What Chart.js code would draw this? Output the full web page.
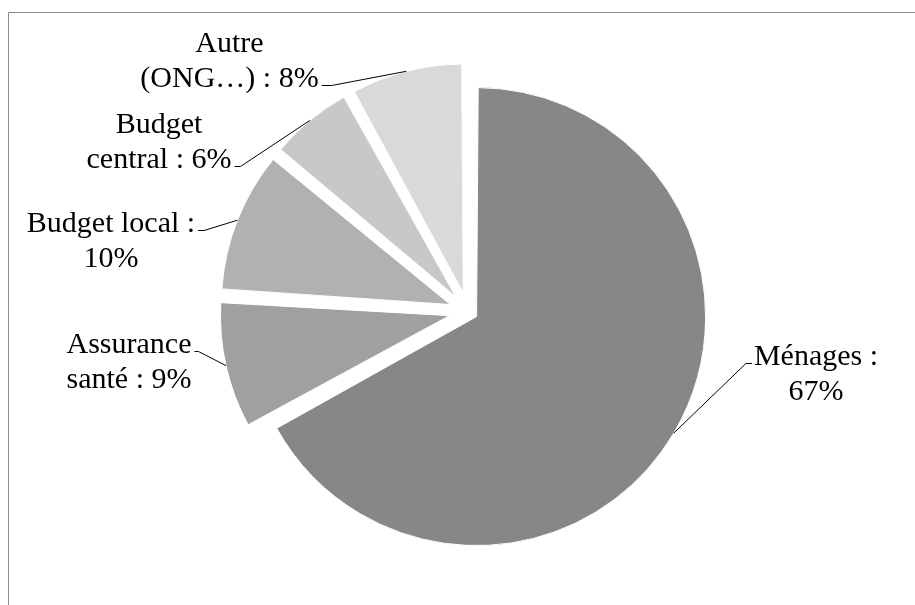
<!DOCTYPE html>
<html><head><meta charset="utf-8">
<script src="https://cdn.jsdelivr.net/npm/chart.js@4/dist/chart.umd.min.js"></script>
<style>html,body{margin:0;padding:0;background:#fff;overflow:hidden}#wrap{width:915px;height:605px;position:relative}canvas{display:block}</style>
</head><body><div id="wrap"><canvas id="c" width="915" height="605" style="width:915px;height:605px"></canvas></div>
<script>
// ---- data ----
const categories = ['Ménages', 'Assurance santé', 'Budget local', 'Budget central', 'Autre (ONG…)'];
const shares = [67, 9, 10, 6, 8];
const labelLines = [['Ménages :', '67%'], ['Assurance', 'santé : 9%'], ['Budget local :', '10%'], ['Budget', 'central : 6%'], ['Autre', '(ONG…) : 8%']];

// ---- style / layout ----
const sliceColors = ['#878787', '#a0a0a0', '#b1b1b1', '#c8c8c8', '#d9d9d9'];
const explode = [40, 76, 76, 76, 76];
const R = 229;
const FONT = '30px "Liberation Serif", serif';
const LINE_H = 35;
const labelLayout = [
  {x: 816, y: 365, side: 'left', line: 0, stub: 6},
  {x: 129, y: 353, side: 'right', line: 0, stub: 4},
  {x: 111, y: 232, side: 'right', line: 0, stub: 6},
  {x: 159, y: 133, side: 'right', line: 1, stub: 6},
  {x: 229.5, y: 52, side: 'right', line: 1, stub: 10}
];

const framePlugin = {
  id: 'frame',
  beforeDraw(chart) {
    const ctx = chart.ctx;
    ctx.save();
    ctx.fillStyle = '#fff';
    ctx.fillRect(0, 0, chart.width, chart.height);
    ctx.strokeStyle = '#8c8c8c';
    ctx.lineWidth = 1;
    ctx.beginPath();
    ctx.moveTo(8.5, chart.height);
    ctx.lineTo(8.5, 12.5);
    ctx.lineTo(chart.width, 12.5);
    ctx.stroke();
    ctx.restore();
  }
};

const radiusPlugin = {
  id: 'radiusFix',
  beforeDatasetsDraw(chart) {
    const meta = chart.getDatasetMeta(0);
    meta.data.forEach((arc, i) => {
      const off = explode[i] / 4;
      const fix = 1 - Math.sin(Math.min(Math.PI, arc.circumference));
      arc.outerRadius = R - off * fix;
    });
  }
};

const labelPlugin = {
  id: 'sliceLabels',
  afterDatasetsDraw(chart) {
    const ctx = chart.ctx;
    const meta = chart.getDatasetMeta(0);
    ctx.save();
    ctx.font = FONT;
    ctx.fillStyle = '#000';
    ctx.textAlign = 'center';
    ctx.textBaseline = 'alphabetic';
    ctx.strokeStyle = '#000';
    ctx.lineWidth = 1;
    meta.data.forEach((arc, i) => {
      const L = labelLayout[i];
      const lines = labelLines[i];
      lines.forEach((t, k) => ctx.fillText(t, L.x, L.y + k * LINE_H));
      const h = (arc.startAngle + arc.endAngle) / 2;
      const r = R + explode[i] / 4;
      const ex = arc.x + Math.cos(h) * r, ey = arc.y + Math.sin(h) * r;
      const w = ctx.measureText(lines[L.line]).width;
      const ay = L.y + L.line * LINE_H - 2 + 0.5;
      let sx, tx;
      if (L.side === 'right') { sx = L.x + w / 2 + 3; tx = sx + L.stub; }
      else { sx = L.x - w / 2 - 2; tx = sx - L.stub; }
      ctx.beginPath();
      ctx.moveTo(sx, ay);
      ctx.lineTo(tx, ay);
      ctx.lineTo(ex, ey);
      ctx.stroke();
    });
    ctx.restore();
  }
};

new Chart(document.getElementById('c'), {
  type: 'pie',
  data: {
    labels: categories,
    datasets: [{
      data: shares,
      backgroundColor: sliceColors,
      borderColor: '#ffffff',
      borderWidth: 1,
      offset: explode,
      hoverOffset: 0,
      radius: R
    }]
  },
  options: {
    responsive: false,
    animation: false,
    events: [],
    layout: {padding: {left: 21, right: 0, top: 18, bottom: 0}},
    plugins: {legend: {display: false}, tooltip: {enabled: false}, title: {display: false}}
  },
  plugins: [framePlugin, radiusPlugin, labelPlugin]
});
</script>
</body></html>
